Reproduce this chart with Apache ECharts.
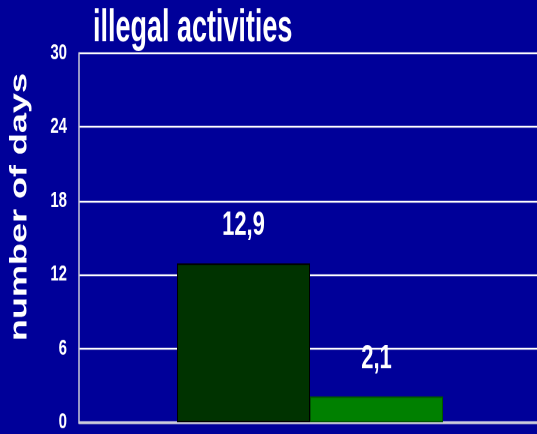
<!DOCTYPE html>
<html>
<head>
<meta charset="utf-8">
<script src="https://cdn.jsdelivr.net/npm/echarts@6/dist/echarts.min.js"></script>
<style>
  html, body { margin: 0; padding: 0; background: #000099; overflow: hidden; width: 537px; height: 434px; }
  #chart { width: 541px; height: 289.333px; transform: scaleY(1.5); transform-origin: 0 0; }
</style>
</head>
<body>
<div id="chart"></div>
<script>
const titleText = 'illegal activities';
const yAxisName = 'number of days';
const categories = [''];
const seriesNames = ['group 1', 'group 2'];
const valuesA = [12.9];
const valuesB = [2.1];
const yTicks = { min: 0, max: 30, interval: 6 };

const chart = echarts.init(document.getElementById('chart'), null, { devicePixelRatio: 2 });
const labelFmt = p => String(p.value).replace('.', ',');
const labelStyle = {
  show: true, position: 'top', distance: 14, formatter: labelFmt,
  color: '#ffffff', fontFamily: 'Liberation Sans, Arial, sans-serif', fontWeight: 'bold', fontSize: 22
};
chart.setOption({
  backgroundColor: '#000099',
  animation: false,
  graphic: [{
    type: 'text', x: 93, y: 34.5, scaleX: 0.87,
    style: {
      text: titleText, fill: '#ffffff', align: 'left', verticalAlign: 'bottom',
      font: 'bold 31px "Liberation Sans", Arial, sans-serif'
    }
  }, {
    type: 'text', x: 20, y: 138, rotation: Math.PI / 2,
    style: {
      text: yAxisName, fill: '#ffffff', align: 'center', verticalAlign: 'middle',
      font: 'bold 24px "Liberation Sans", Arial, sans-serif'
    }
  }],
  grid: { left: 79, right: 0, top: 35.33, bottom: 7.33, containLabel: false },
  xAxis: {
    type: 'category', data: categories,
    axisLine: { show: true, lineStyle: { color: '#c8c8d8', width: 1.5 } },
    axisTick: { show: false }, axisLabel: { show: false }, splitLine: { show: false }
  },
  yAxis: {
    type: 'value', min: yTicks.min, max: yTicks.max, interval: yTicks.interval,
    axisLine: { show: true, lineStyle: { color: '#c8c8d8', width: 1.5 } },
    axisTick: { show: false },
    axisLabel: { color: '#ffffff', fontFamily: 'Liberation Sans, Arial, sans-serif', fontWeight: 'bold', fontSize: 15, margin: 12 },
    splitLine: { show: true, lineStyle: { color: '#ffffff', width: 1.2 } }
  },
  series: [
    {
      name: seriesNames[0], type: 'bar', data: valuesA, barWidth: 133, barGap: '0%',
      itemStyle: { color: '#003300', borderColor: '#000000', borderWidth: 1 },
      label: labelStyle
    },
    {
      name: seriesNames[1], type: 'bar', data: valuesB, barWidth: 133, barGap: '0%',
      itemStyle: { color: '#008000', borderColor: '#005500', borderWidth: 1 },
      label: labelStyle
    }
  ]
});
</script>
</body>
</html>
